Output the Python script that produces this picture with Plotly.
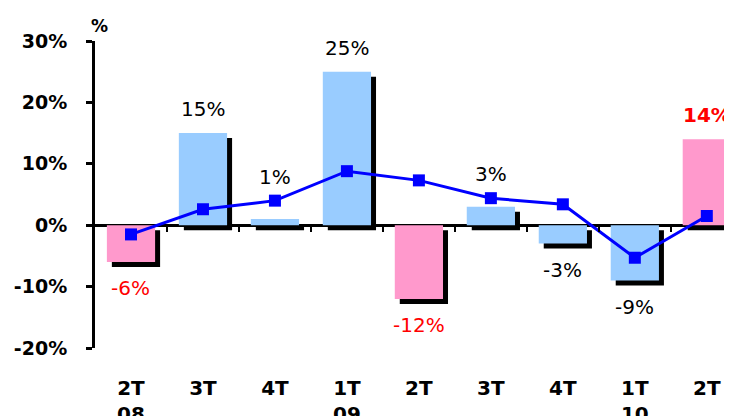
import plotly.graph_objects as go

categories = ["2T<br>08", "3T", "4T", "1T<br>09", "2T", "3T", "4T", "1T<br>10", "2T"]
bar_values = [-6, 15, 1, 25, -12, 3, -3, -9, 14]
line_values = [-1.5, 2.6, 4.0, 8.8, 7.3, 4.4, 3.4, -5.3, 1.5]
highlight = [True, False, False, False, True, False, False, False, True]
bar_labels = ["-6%", "15%", "1%", "25%", "-12%", "3%", "-3%", "-9%", "14%"]

xs = list(range(len(categories)))
BLUE = "#99CCFF"
PINK = "#FF99CC"
FONT = "DejaVu Sans"

bw = 0.67
sx = 5 / 72.0          # shadow shift (category units)
sy = 5 / 6.14          # shadow shift (% units)

fig = go.Figure()

# shadow bars
fig.add_trace(go.Bar(
    x=xs, y=bar_values, base=[-sy] * len(xs),
    width=bw, offset=-bw / 2 + sx,
    marker=dict(color="black", line=dict(width=0)),
    hoverinfo="skip", showlegend=False,
))
# main bars
fig.add_trace(go.Bar(
    x=xs, y=bar_values,
    width=bw, offset=-bw / 2,
    marker=dict(color=[PINK if h else BLUE for h in highlight], line=dict(width=0)),
    showlegend=False,
))
# line
fig.add_trace(go.Scatter(
    x=xs, y=line_values, mode="lines+markers",
    line=dict(color="#0000FF", width=3),
    marker=dict(symbol="square", size=12, color="#0000FF"),
    showlegend=False,
))
# helper trace for boundary ticks axis
fig.add_trace(go.Scatter(x=[0], y=[0], xaxis="x2", mode="markers",
                         marker=dict(opacity=0), hoverinfo="skip", showlegend=False))

for i, (v, lv, t, h) in enumerate(zip(bar_values, line_values, bar_labels, highlight)):
    if v >= 0:
        y = max(v, lv) + 3.9
    else:
        y = min(v, lv) - 4.3
    fig.add_annotation(
        x=i, y=y, text=f"<b>{t}</b>" if (h and v > 0) else t, showarrow=False,
        xanchor="center", yanchor="middle",
        font=dict(family=FONT, size=20, color="#FF0000" if h else "black"),
    )

fig.add_annotation(xref="paper", yref="paper", x=0.0, y=1.0, yshift=15, xshift=-6,
                   text="<b>%</b>", showarrow=False, xanchor="left", yanchor="middle",
                   font=dict(family=FONT, size=17, color="black"))

fig.update_layout(
    width=724, height=408,
    margin=dict(l=87, r=0, t=33, b=68, autoexpand=False),
    paper_bgcolor="white", plot_bgcolor="white",
    barmode="overlay",
    xaxis=dict(
        range=[-0.5, 8.35], tickvals=xs, ticktext=[f"<b>{c}</b>" for c in categories],
        ticks="", showline=False, showgrid=False, zeroline=False,
        tickfont=dict(family=FONT, size=20, color="black"),
        ticklabelstandoff=26, automargin=False,
    ),
    xaxis2=dict(
        range=[-0.5, 8.35], overlaying="x", anchor="free", position=0.4,
        side="bottom",
        tickvals=[i + 0.5 for i in xs[:-1]], ticks="outside", ticklen=6, tickwidth=2,
        tickcolor="black", showticklabels=False, showline=False, showgrid=False,
        zeroline=False, automargin=False,
    ),
    yaxis=dict(
        range=[-20, 30], tickvals=[-20, -10, 0, 10, 20, 30],
        ticktext=["<b>-20%</b>", "<b>-10%</b>", "<b>0%</b>", "<b>10%</b>", "<b>20%</b>", "<b>30%</b>"],
        showline=True, linecolor="black", linewidth=3,
        ticks="outside", ticklen=6, tickwidth=3, tickcolor="black",
        showgrid=False, zeroline=True, zerolinecolor="black", zerolinewidth=3,
        tickfont=dict(family=FONT, size=19, color="black"),
        ticklabelstandoff=15, automargin=False,
    ),
)

fig.write_html("out.html")
